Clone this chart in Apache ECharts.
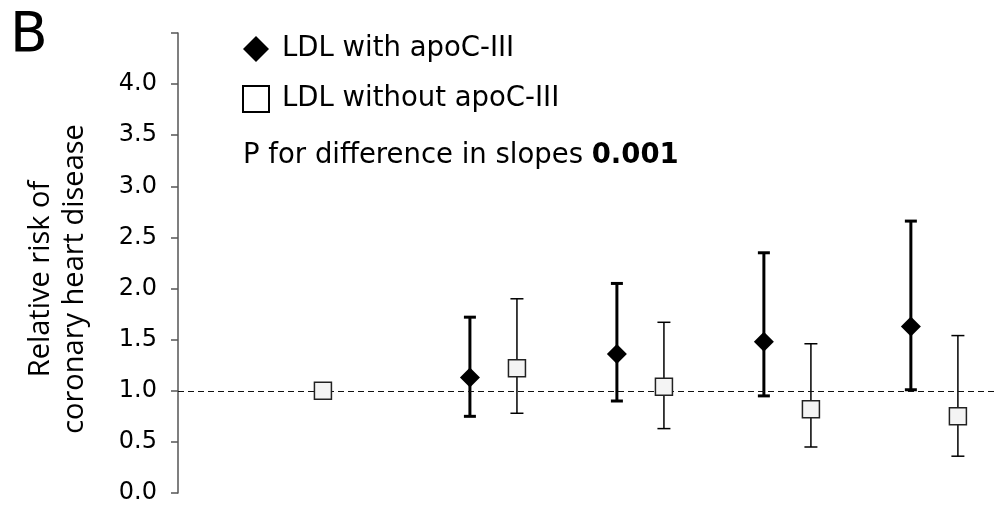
<!DOCTYPE html>
<html>
<head>
<meta charset="utf-8">
<script src="https://cdn.jsdelivr.net/npm/echarts@6/dist/echarts.min.js"></script>
<style>html,body{margin:0;padding:0;background:#fff}#c{width:997px;height:508px}</style>
</head>
<body>
<div id="c"></div>
<script>
// ---- data ----
var groups = [1, 2, 3, 4, 5];
var withRR = [null, 1.13, 1.36, 1.48, 1.63];
var withLo = [null, 0.75, 0.90, 0.95, 1.01];
var withHi = [null, 1.72, 2.05, 2.35, 2.66];
var withoutRR = [1.00, 1.22, 1.04, 0.82, 0.75];
var withoutLo = [1.00, 0.78, 0.63, 0.45, 0.36];
var withoutHi = [1.00, 1.90, 1.67, 1.46, 1.54];
var yTicks = [0.0, 0.5, 1.0, 1.5, 2.0, 2.5, 3.0, 3.5, 4.0];
var seriesNames = ['LDL with apoC-III', 'LDL without apoC-III'];
var pLabel = 'P for difference in slopes';
var pValue = '0.001';

// ---- build ----
var OFF = 0.16;
var withPts = [], withBars = [], woPts = [], woBars = [];
groups.forEach(function (g, i) {
  if (withRR[i] != null) {
    withPts.push([g - OFF, withRR[i]]);
    withBars.push([g - OFF, withLo[i], withHi[i]]);
  }
  var xs = withRR[i] == null ? g - OFF : g + OFF; // reference group drawn alone
  woPts.push([xs, withoutRR[i]]);
  if (withoutHi[i] > withoutLo[i]) woBars.push([xs, withoutLo[i], withoutHi[i]]);
});

function errBar(lw, capW) {
  return function (params, api) {
    var x = api.value(0), lo = api.value(1), hi = api.value(2);
    var a = api.coord([x, hi]), b = api.coord([x, lo]);
    var st = { stroke: '#000', lineWidth: lw };
    var h = capW / 2;
    return {
      type: 'group', children: [
        { type: 'line', shape: { x1: a[0], y1: a[1], x2: b[0], y2: b[1] }, style: st },
        { type: 'line', shape: { x1: a[0] - h, y1: a[1], x2: a[0] + h, y2: a[1] }, style: st },
        { type: 'line', shape: { x1: b[0] - h, y1: b[1], x2: b[0] + h, y2: b[1] }, style: st }
      ]
    };
  };
}

var chart = echarts.init(document.getElementById('c'));
var FONT = 'DejaVu Sans';
chart.setOption({
  animation: false,
  backgroundColor: '#fff',
  grid: { left: 178, right: 0, top: 33, bottom: 15 },
  xAxis: { type: 'value', min: -0.146, max: 5.426, show: false },
  yAxis: {
    type: 'value', min: 0, max: 4.5, interval: 0.5,
    axisLine: { show: true, onZero: false, lineStyle: { color: '#555', width: 1.5 } },
    axisTick: { show: true, length: 7, lineStyle: { color: '#555', width: 1.5 } },
    splitLine: { show: false },
    axisLabel: {
      margin: 21, color: '#000', fontSize: 24, fontFamily: FONT,
      formatter: function (v) { return yTicks.indexOf(v) >= 0 ? v.toFixed(1) : ''; }
    }
  },
  legend: {
    orient: 'vertical', left: 237, top: 30, itemGap: 22,
    itemWidth: 26, itemHeight: 26,
    textStyle: { fontSize: 27.5, lineHeight: 26, fontFamily: FONT, color: '#000', padding: [0, 0, 0, 8] },
    data: [
      { name: seriesNames[0], icon: 'diamond', itemStyle: { color: '#000', borderWidth: 0, opacity: 1 } },
      { name: seriesNames[1], icon: 'rect', itemStyle: { color: '#fff', borderColor: '#000', borderWidth: 2, opacity: 1 } }
    ]
  },
  graphic: [
    { type: 'text', left: 10, top: 9, style: { text: 'B', fontSize: 55, fontFamily: FONT, fill: '#000' } },
    { type: 'text', x: 41, y: 279, rotation: Math.PI / 2, style: { text: 'Relative risk of', fontSize: 29, fontFamily: 'Open Sans', fill: '#000', align: 'center', verticalAlign: 'middle' } },
    { type: 'text', x: 75, y: 279, rotation: Math.PI / 2, style: { text: 'coronary heart disease', fontSize: 29, fontFamily: 'Open Sans', fill: '#000', align: 'center', verticalAlign: 'middle' } },
    { type: 'text', left: 243, top: 142, style: {
        text: '{n|' + pLabel + ' }{b|' + pValue + '}',
        rich: { n: { fontSize: 27.5, fontFamily: FONT, fill: '#000' }, b: { fontSize: 27.5, fontFamily: FONT, fontWeight: 'bold', fill: '#000' } }
    } }
  ],
  series: [
    { type: 'custom', name: 'barsWith', renderItem: errBar(3, 12), data: withBars, z: 2, silent: true },
    { type: 'custom', name: 'barsWithout', renderItem: errBar(1.5, 13), data: woBars, z: 2, silent: true },
    {
      type: 'scatter', name: seriesNames[0], data: withPts, symbol: 'diamond', symbolSize: [20, 20],
      itemStyle: { color: '#000', opacity: 1 }, z: 5,
      markLine: {
        silent: true, symbol: 'none', label: { show: false },
        lineStyle: { color: '#111', width: 1.2, type: [6, 4] },
        data: [{ yAxis: 1 }]
      }
    },
    {
      type: 'scatter', name: seriesNames[1], data: woPts, symbol: 'rect', symbolSize: 17,
      itemStyle: { color: '#f4f4f4', borderColor: '#222', borderWidth: 1.5, opacity: 1 }, z: 5
    }
  ]
});
</script>
</body>
</html>
